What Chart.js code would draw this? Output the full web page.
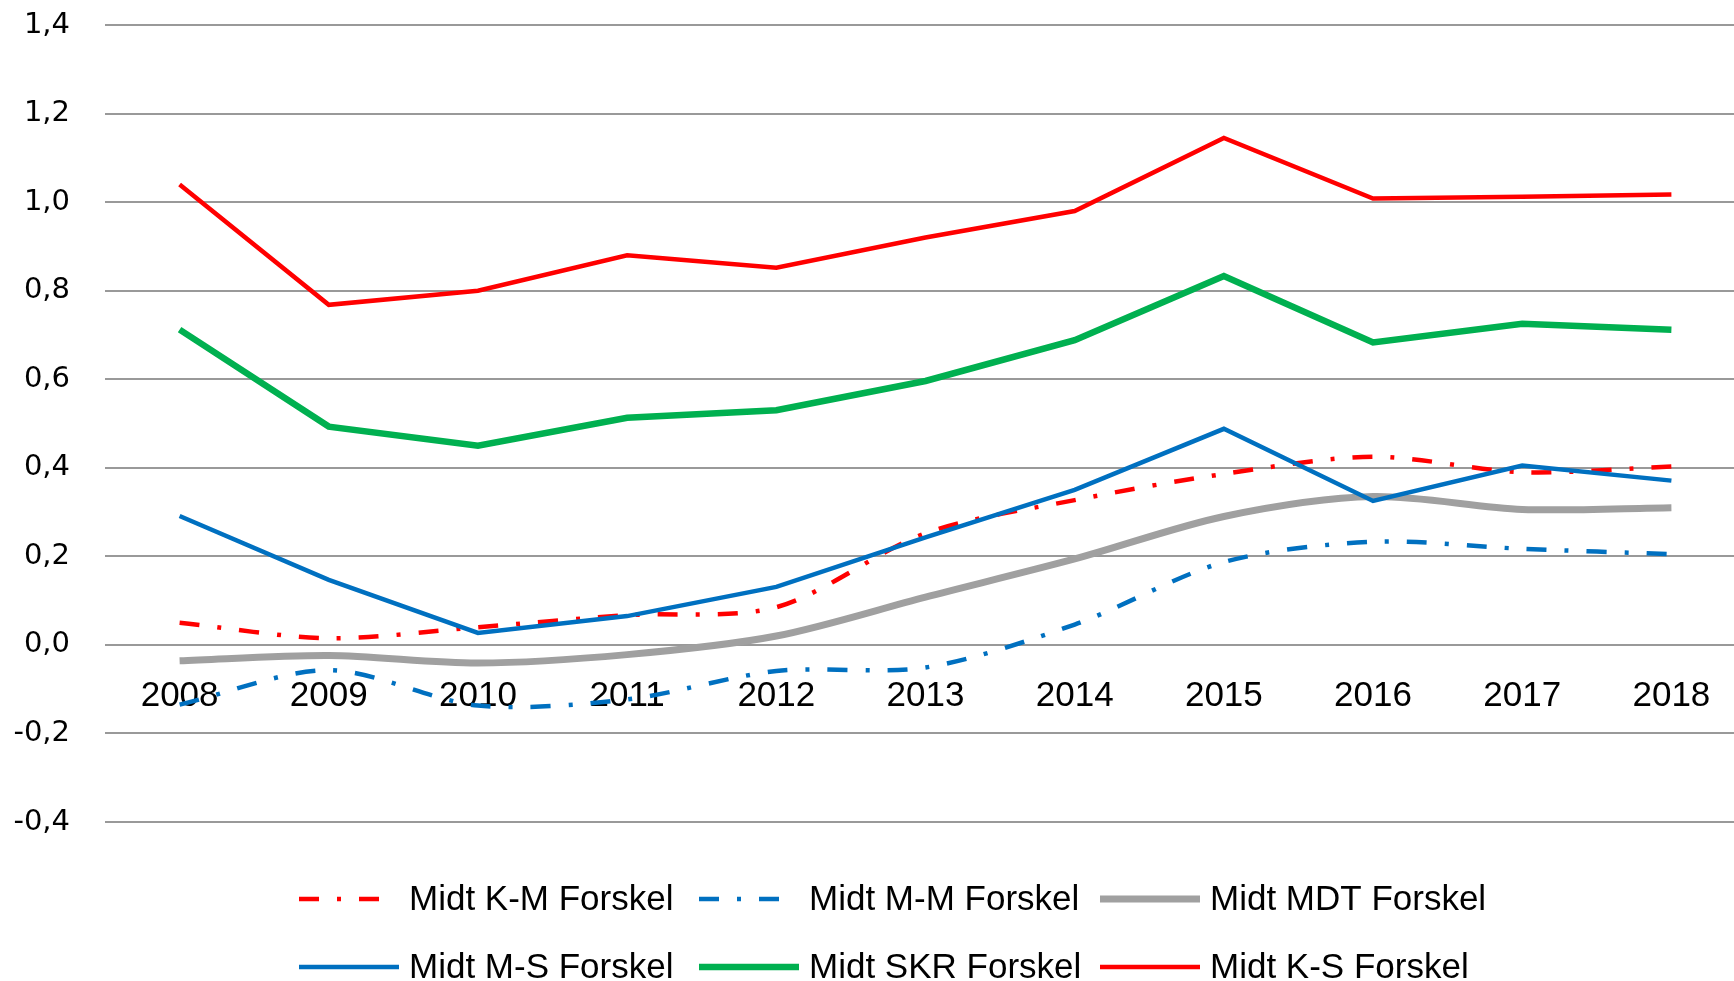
<!DOCTYPE html>
<html>
<head>
<meta charset="utf-8">
<script src="https://cdn.jsdelivr.net/npm/chart.js@4/dist/chart.umd.min.js"></script>
<style>
  html, body { margin: 0; padding: 0; background: #fff; overflow: hidden; }
  #wrap { width: 1746px; height: 981px; }
</style>
</head>
<body>
<div id="wrap"><canvas id="myChart" width="1746" height="981"></canvas></div>
<script>
// years on the x axis
const years = ['2008', '2009', '2010', '2011', '2012', '2013', '2014', '2015', '2016', '2017', '2018'];

// series values
const kmForskel  = [0.05, 0.015, 0.04, 0.067, 0.085, 0.252, 0.327, 0.386, 0.425, 0.39, 0.403];
const mmForskel  = [-0.135, -0.057, -0.137, -0.123, -0.059, -0.051, 0.046, 0.187, 0.233, 0.217, 0.205];
const mdtForskel = [-0.036, -0.024, -0.041, -0.022, 0.02, 0.108, 0.194, 0.29, 0.335, 0.306, 0.31];
const msForskel  = [0.291, 0.147, 0.027, 0.065, 0.131, 0.243, 0.35, 0.488, 0.325, 0.405, 0.371];
const skrForskel = [0.712, 0.493, 0.45, 0.513, 0.53, 0.596, 0.688, 0.833, 0.683, 0.725, 0.712];
const ksForskel  = [1.04, 0.768, 0.8, 0.88, 0.852, 0.92, 0.98, 1.145, 1.008, 1.012, 1.017];

const seriesNames = ['Midt K-M Forskel', 'Midt M-M Forskel', 'Midt MDT Forskel',
                     'Midt M-S Forskel', 'Midt SKR Forskel', 'Midt K-S Forskel'];

// y axis range
const yMin = -0.4;
const yMax = 1.4;
const yStep = 0.2;

const textFont = '"Liberation Sans", Arial, sans-serif';
const dashDot = [20, 18, 4, 18];

function line(label, data, color, width, dash, tension, idx) {
    return {
        label: label,
        data: data,
        borderColor: color,
        backgroundColor: color,
        borderWidth: width,
        borderDash: dash,
        borderCapStyle: 'butt',
        tension: tension,
        pointRadius: 0,
        fill: false,
        order: 5 - idx   // later series on top, like the original
    };
}

// legend drawn in a 3 x 2 grid under the plot
const gridLegend = {
    id: 'gridLegend',
    afterDraw(chart) {
        const ctx = chart.ctx;
        const colX = [299, 699, 1100];
        const rowY = [899, 967];
        ctx.save();
        chart.data.datasets.forEach((ds, i) => {
            const x = colX[i % 3];
            const y = rowY[Math.floor(i / 3)];
            ctx.beginPath();
            ctx.strokeStyle = ds.borderColor;
            ctx.lineWidth = ds.borderWidth;
            ctx.lineCap = 'butt';
            ctx.setLineDash(ds.borderDash || []);
            ctx.moveTo(x, y);
            ctx.lineTo(x + (ds.borderDash.length ? 84 : 100), y);
            ctx.stroke();
            ctx.setLineDash([]);
            ctx.fillStyle = '#000';
            ctx.font = '35px ' + textFont;
            ctx.textBaseline = 'middle';
            ctx.textAlign = 'left';
            ctx.fillText(ds.label, x + 110, y + 1);
        });
        ctx.restore();
    }
};

const ctx = document.getElementById('myChart').getContext('2d');
const chart = new Chart(ctx, {
    type: 'line',
    data: {
        labels: years,
        datasets: [
            line(seriesNames[0], kmForskel, '#FF0000', 4.5, dashDot, 0.3, 0),
            line(seriesNames[1], mmForskel, '#0070C0', 4.5, dashDot, 0.3, 1),
            line(seriesNames[2], mdtForskel, '#A0A0A0', 7, [], 0.3, 2),
            line(seriesNames[3], msForskel, '#0070C0', 4.5, [], 0, 3),
            line(seriesNames[4], skrForskel, '#00B050', 6.5, [], 0, 4),
            line(seriesNames[5], ksForskel, '#FF0000', 4.5, [], 0, 5)
        ]
    },
    options: {
        responsive: false,
        animation: false,
        layout: { padding: { left: 0, right: 0, top: 25, bottom: 159 } },
        scales: {
            x: {
                type: 'category',
                position: { y: 0 },
                offset: true,
                grid: { display: false, drawTicks: false },
                border: { display: false },
                ticks: {
                    color: '#000',
                    font: { family: textFont, size: 35 },
                    padding: 30,
                    autoSkip: false,
                    maxRotation: 0
                }
            },
            y: {
                min: yMin,
                max: yMax,
                afterFit: (s) => { s.width = 105; },
                grid: {
                    color: '#999999',
                    lineWidth: 2,
                    drawTicks: true,
                    tickLength: 32,
                    tickColor: 'rgba(0,0,0,0)'
                },
                border: { display: false },
                ticks: {
                    stepSize: yStep,
                    color: '#000',
                    padding: 3,
                    font: { family: '"DejaVu Sans", Verdana, sans-serif', size: 29 },
                    callback: (v) => v.toFixed(1).replace('.', ',').replace('-0,0', '0,0')
                }
            }
        },
        plugins: {
            legend: { display: false },
            tooltip: { enabled: false }
        }
    },
    plugins: [gridLegend]
});
</script>
</body>
</html>
